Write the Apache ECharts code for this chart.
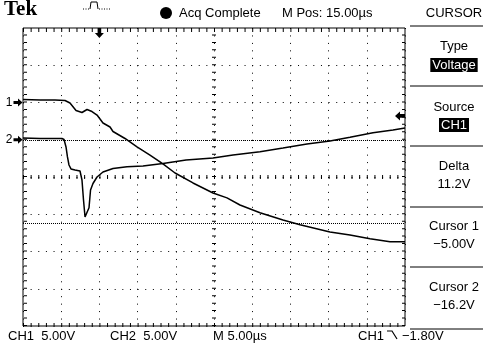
<!DOCTYPE html>
<html>
<head>
<meta charset="utf-8">
<script src="https://cdn.jsdelivr.net/npm/echarts@6/dist/echarts.min.js"></script>
<style>
html,body{margin:0;padding:0;background:#fff;}
#main{width:483px;height:346px;}
</style>
</head>
<body>
<div id="main"></div>
<script>
// time in us relative to trigger, volts
var ch1Time = [-10, -7.77, -5.81, -4.5, -3.85, -3.06, -2.28, -1.62, -0.97, -0.31, 0.47, 1.39, 1.78, 3.35, 4.92, 6.62, 8.32, 9.9, 12.25, 14.87, 16.7, 18.4, 21.02, 24.03, 26.26, 30.18, 32.8, 35.42, 38.04, 40];
var ch1Volts = [0.4, 0.34, 0.34, 0.27, -0.07, -1.07, -1.34, -0.94, -1.21, -1.68, -2.75, -3.29, -3.89, -4.83, -5.97, -7.05, -8.25, -9.46, -10.8, -12.15, -12.8, -13.76, -14.8, -15.77, -16.4, -17.38, -17.78, -18.3, -18.7, -18.7];
var ch2Time = [-10, -7.77, -4.9, -4.63, -4.37, -4.18, -3.98, -3.72, -3.19, -2.54, -2.28, -2.08, -1.88, -1.62, -1.36, -1.16, -0.84, -0.31, 0.47, 1.78, 3.61, 5.71, 8.32, 11.34, 14.87, 17.49, 21.02, 24.03, 27.17, 30.18, 32.8, 35.81, 38.43, 40];
var ch2Volts = [0.23, 0.17, 0.17, 0.03, -0.97, -2.31, -3.39, -3.92, -4.06, -4.19, -5.4, -8.09, -10.37, -10.37, -9.13, -6.74, -5.87, -5.0, -4.33, -3.86, -3.62, -3.52, -3.19, -2.72, -2.45, -2.05, -1.6, -1.11, -0.57, -0.17, 0.33, 0.95, 1.31, 1.58];

var voltsPerDiv = 5;
var ch1Offset = 2;   // ground marker, divisions from centre
var ch2Offset = 1;
var cursor1 = -5.0, cursor2 = -16.2, trigLevel = -1.8;
var tMin = -10, tMax = 40, tDiv = 5, divs = 4;

var fnt = "'Liberation Sans', Arial, sans-serif";

function toDiv(t, v, off){
	var out = [];
	for (var i = 0; i < t.length; i++) out.push([t[i], v[i] / voltsPerDiv + off]);
	return out;
}

var arrowR = 'path://M0,3 L5,3 L5,0 L10,5 L5,10 L5,7 L0,7 Z';
var arrowL = 'path://M10,3 L5,3 L5,0 L0,5 L5,10 L5,7 L10,7 Z';
var arrowD = 'path://M3,0 L7,0 L7,5 L10,5 L5,10 L0,5 L3,5 Z';

var gridW = 382, gridH = 298;
var xGap = 6.64, yGap = 6.45;   // minor division spacing in px, less the 1px dot
// frame ticks: a short dashed line just inside each edge
var inX = 0.26, inY = 0.05;

var chart = echarts.init(document.getElementById('main'));

function tickLine(w, gap){
	return {color:'#000', width:w, type:[1, gap]};
}

var panelX = 454;
var panelTexts = [
	['Type', 46], ['Source', 107], ['Delta', 166], ['11.2V', 184],
	['Cursor 1', 226], ['\u22125.00V', 244], ['Cursor 2', 287], ['\u221216.2V', 305]
];
var sepY = [26, 86, 146, 207, 267, 329];

var graphics = [
	{type:'text', left:4, top:-1, style:{text:'Tek', font:"bold 21px 'Liberation Serif', serif", fill:'#000'}},
	{type:'polyline', shape:{points:[[83,9],[90,9]]}, style:{stroke:'#000', lineWidth:1, lineDash:[1,1.5], fill:null}},
	{type:'polyline', shape:{points:[[90,9],[91,2],[97,2],[98,9]]}, style:{stroke:'#000', lineWidth:1, fill:null}},
	{type:'polyline', shape:{points:[[99,9],[111,9]]}, style:{stroke:'#000', lineWidth:1, lineDash:[1,1.5], fill:null}},
	{type:'circle', shape:{cx:166, cy:13, r:6}, style:{fill:'#000'}},
	{type:'text', x:179, y:13, style:{text:'Acq Complete', font:'13px ' + fnt, fill:'#000', textVerticalAlign:'middle'}},
	{type:'text', x:282, y:13, style:{text:'M Pos: 15.00\u00b5s', font:'13px ' + fnt, fill:'#000', textVerticalAlign:'middle'}},
	{type:'text', x:panelX, y:13, style:{text:'CURSOR', font:'13px ' + fnt, fill:'#000', textAlign:'center', textVerticalAlign:'middle'}},
	{type:'text', x:panelX, y:65, style:{text:'Voltage', font:'13px ' + fnt, fill:'#fff', backgroundColor:'#000', padding:[1,2,0,2], textAlign:'center', textVerticalAlign:'middle'}},
	{type:'text', x:panelX, y:125, style:{text:'CH1', font:'13px ' + fnt, fill:'#fff', backgroundColor:'#000', padding:[1,2,0,2], textAlign:'center', textVerticalAlign:'middle'}},
	{type:'text', x:8, y:336, style:{text:'CH1  5.00V', font:'13px ' + fnt, fill:'#000', textVerticalAlign:'middle'}},
	{type:'text', x:110, y:336, style:{text:'CH2  5.00V', font:'13px ' + fnt, fill:'#000', textVerticalAlign:'middle'}},
	{type:'text', x:213, y:336, style:{text:'M 5.00\u00b5s', font:'13px ' + fnt, fill:'#000', textVerticalAlign:'middle'}},
	{type:'text', x:358, y:336, style:{text:'CH1', font:'13px ' + fnt, fill:'#000', textVerticalAlign:'middle'}},
	{type:'polyline', shape:{points:[[387,331],[392,331],[397,339]]}, style:{stroke:'#000', lineWidth:1.2, fill:null}},
	{type:'text', x:402, y:336, style:{text:'\u22121.80V', font:'13px ' + fnt, fill:'#000', textVerticalAlign:'middle'}}
];
panelTexts.forEach(function(p){
	graphics.push({type:'text', x:panelX, y:p[1], style:{text:p[0], font:'13px ' + fnt, fill:'#000', textAlign:'center', textVerticalAlign:'middle'}});
});
sepY.forEach(function(y){
	graphics.push({type:'line', shape:{x1:410, y1:y, x2:483, y2:y}, style:{stroke:'#000', lineWidth:1}});
});

var option = {
	animation:false,
	backgroundColor:'#fff',
	grid:{left:23, top:28, width:gridW, height:gridH, show:true, borderColor:'#000', borderWidth:1, backgroundColor:'transparent'},
	xAxis:{
		type:'value', min:tMin, max:tMax, interval:tDiv,
		axisLine:{show:false}, axisTick:{show:false}, axisLabel:{show:false},
		splitLine:{show:true, lineStyle:{color:'#000', width:1, type:[1, yGap]}}
	},
	yAxis:{
		type:'value', min:-divs, max:divs, interval:1,
		axisLine:{show:false}, axisTick:{show:false}, axisLabel:{show:false},
		splitLine:{show:true, lineStyle:{color:'#000', width:1, type:[1, xGap]}}
	},
	graphic:graphics,
	series:[{
		type:'line', name:'CH1', data:toDiv(ch1Time, ch1Volts, ch1Offset),
		showSymbol:false, lineStyle:{color:'#000', width:1.5},
		markLine:{
			symbol:'none', label:{show:false},
			data:[
				{xAxis:(tMin + tMax) / 2, lineStyle:tickLine(4, yGap)},
				{yAxis:0, lineStyle:tickLine(4, xGap)},
				{yAxis:cursor1 / voltsPerDiv + ch1Offset, lineStyle:{color:'#000', width:1, type:[1, 1]}},
				{yAxis:cursor2 / voltsPerDiv + ch1Offset, lineStyle:{color:'#000', width:1, type:[1, 1]}}
			]
		},
		markPoint:{
			data:[
				{coord:[tMin, ch1Offset], symbol:arrowR, symbolSize:[9,8], symbolOffset:[-5,0], itemStyle:{color:'#000'},
					label:{show:true, formatter:'1', position:'left', distance:1, color:'#000', font:'13px ' + fnt}},
				{coord:[tMin, ch2Offset], symbol:arrowR, symbolSize:[9,8], symbolOffset:[-5,0], itemStyle:{color:'#000'},
					label:{show:true, formatter:'2', position:'left', distance:1, color:'#000', font:'13px ' + fnt}},
				{coord:[0, divs], symbol:arrowD, symbolSize:[9,10], symbolOffset:[0,5], itemStyle:{color:'#000'}, label:{show:false}},
				{coord:[tMax, trigLevel / voltsPerDiv + ch1Offset], symbol:arrowL, symbolSize:[10,9], symbolOffset:[-5,0], itemStyle:{color:'#000'}, label:{show:false}}
			]
		}
	}, {
		type:'line', name:'CH2', data:toDiv(ch2Time, ch2Volts, ch2Offset),
		showSymbol:false, lineStyle:{color:'#000', width:1.5},
		markLine:{
			symbol:'none', label:{show:false},
			data:[
				{xAxis:tMin + inX, lineStyle:tickLine(3, yGap)},
				{xAxis:tMax - inX, lineStyle:tickLine(3, yGap)},
				{yAxis:divs - inY, lineStyle:tickLine(3, xGap)},
				{yAxis:-divs + inY, lineStyle:tickLine(3, xGap)}
			]
		}
	}]
};
chart.setOption(option);
</script>
</body>
</html>
